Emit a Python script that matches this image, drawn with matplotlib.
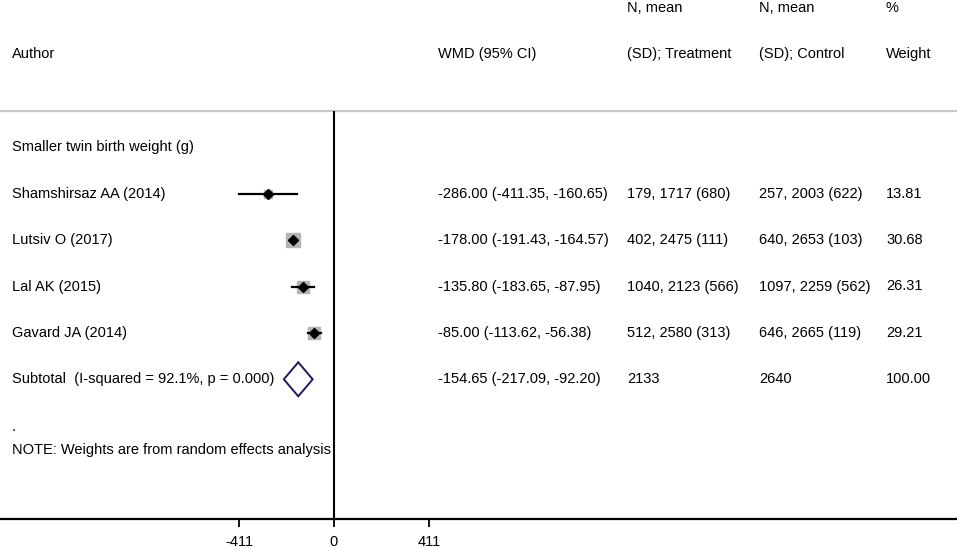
import matplotlib
matplotlib.use('Agg')
import matplotlib.pyplot as plt
import matplotlib.transforms as mtransforms

plt.rcParams['font.family'] = ['Liberation Sans', 'DejaVu Sans']
plt.rcParams['font.size'] = 10.5

# study data
authors = ['Shamshirsaz AA (2014)', 'Lutsiv O (2017)', 'Lal AK (2015)', 'Gavard JA (2014)']
wmd = [-286.00, -178.00, -135.80, -85.00]
ci_lo = [-411.35, -191.43, -183.65, -113.62]
ci_hi = [-160.65, -164.57, -87.95, -56.38]
treat_txt = ['179, 1717 (680)', '402, 2475 (111)', '1040, 2123 (566)', '512, 2580 (313)']
ctrl_txt = ['257, 2003 (622)', '640, 2653 (103)', '1097, 2259 (562)', '646, 2665 (119)']
weights = [13.81, 30.68, 26.31, 29.21]

# pooled
sub_label = 'Subtotal  (I-squared = 92.1%, p = 0.000)'
sub_wmd, sub_lo, sub_hi = -154.65, -217.09, -92.20
sub_treat, sub_ctrl, sub_weight = '2133', '2640', '100.00'

group_label = 'Smaller twin birth weight (g)'
note = 'NOTE: Weights are from random effects analysis'
ticks = [-411, 0, 411]

W, H = 957, 548
fig = plt.figure(figsize=(W / 100, H / 100), dpi=100)
ax = fig.add_axes([0, (H - 519) / H, 1, 519 / H])

px_per_unit = 190 / 822
ax.set_xlim(-334 / px_per_unit, (W - 334) / px_per_unit)
row_px, row0 = 46.4, 147.3
ax.set_ylim((519 - row0) / row_px, -row0 / row_px)

for s in ['top', 'left', 'right']:
    ax.spines[s].set_visible(False)
ax.spines['bottom'].set_linewidth(1.6)
ax.set_yticks([])
ax.set_xticks(ticks)
ax.set_xticklabels([str(t) for t in ticks])
ax.tick_params(axis='x', length=5.8, width=1.3, pad=6, labelsize=10.5)

# header rule and null line
ax.axhline((110.5 - row0) / row_px, color='#c8c8c8', lw=1.6)
ax.plot([0, 0], [(111 - row0) / row_px, (519 - row0) / row_px], color='black', lw=1.5, solid_capstyle='butt')

# studies
for i in range(len(authors)):
    y = i + 1
    ax.plot(wmd[i], y, marker='s', ms=1.69 * weights[i] ** 0.5, color='#b4b4b4', mec='#b4b4b4', ls='none')
    ax.plot([ci_lo[i], ci_hi[i]], [y, y], color='black', lw=1.6)
    ax.plot(wmd[i], y, marker='D', ms=5, color='black', ls='none')

# pooled diamond
ys = 5
hh = 17 / row_px
ax.fill([sub_lo, sub_wmd, sub_hi, sub_wmd], [ys, ys - hh, ys, ys + hh],
        facecolor='white', edgecolor='#1b1b5e', lw=1.4)

# text columns
tr = mtransforms.blended_transform_factory(fig.transFigure, ax.transData)
xa, xw, xt, xc, xp = 12 / W, 438 / W, 627 / W, 759 / W, 886 / W

def put(x, y, s):
    ax.text(x, y, s, transform=tr, ha='left', va='center', color='black')

yh1 = (8 - row0) / row_px
yh2 = (54 - row0) / row_px
put(xt, yh1, 'N, mean')
put(xc, yh1, 'N, mean')
put(xp, yh1, '%')
put(xa, yh2, 'Author')
put(xw, yh2, 'WMD (95% CI)')
put(xt, yh2, '(SD); Treatment')
put(xc, yh2, '(SD); Control')
put(xp, yh2, 'Weight')

put(xa, 0, group_label)
for i in range(len(authors)):
    y = i + 1
    put(xa, y, authors[i])
    put(xw, y, f'{wmd[i]:.2f} ({ci_lo[i]:.2f}, {ci_hi[i]:.2f})')
    put(xt, y, treat_txt[i])
    put(xc, y, ctrl_txt[i])
    put(xp, y, f'{weights[i]:.2f}')

put(xa, 5, sub_label)
put(xw, 5, f'{sub_wmd:.2f} ({sub_lo:.2f}, {sub_hi:.2f})')
put(xt, 5, sub_treat)
put(xc, 5, sub_ctrl)
put(xp, 5, sub_weight)

put(xa, 6.02, '.')
put(xa, 6.53, note)

fig.savefig('out.png', dpi=100)
